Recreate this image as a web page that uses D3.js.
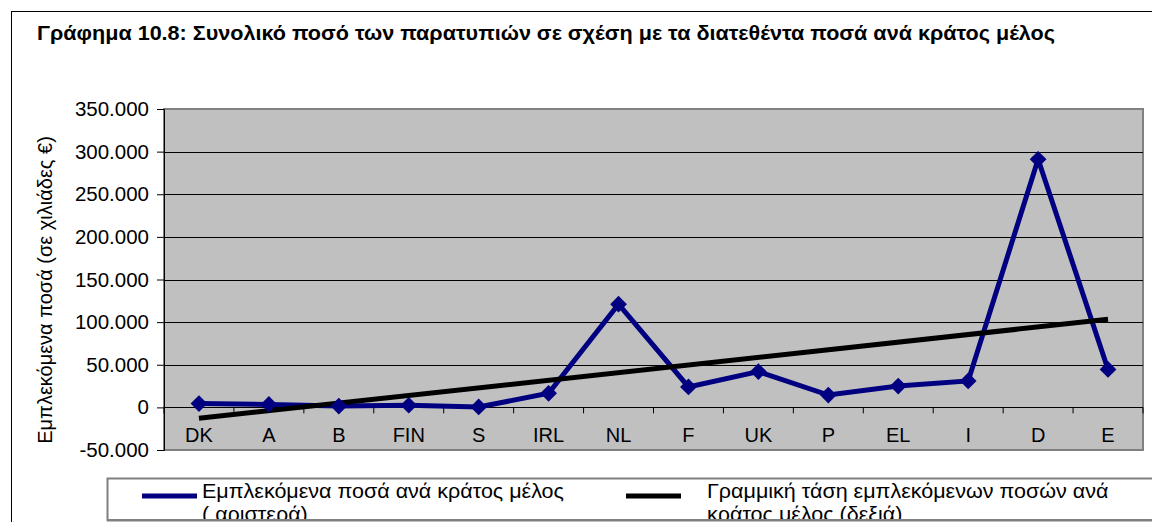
<html>

<head>
    <meta charset="utf-8">
    <script src="https://cdn.jsdelivr.net/npm/d3@7"></script>
    <style>
        body {
            margin: 0;
            background: #fff;
        }

        text {
            font-family: "Liberation Sans", Arial, sans-serif;
            fill: #000;
        }
    </style>
</head>

<body>
    <svg width="1152" height="522" id="chart"></svg>

    <script>
        // data (thousands of euro)
        const countries = ["DK", "A", "B", "FIN", "S", "IRL", "NL", "F", "UK", "P", "EL", "I", "D", "E"];
        const amounts = [4.5, 3.5, 1.5, 2.5, 0.5, 16.5, 121, 24, 42, 14.5, 25, 31, 291, 44.5];
        // linear trend, value at first and last country
        const trendCountries = ["DK", "E"];
        const trendValues = [-12.8, 103.3];
        const yTicks = [-50, 0, 50, 100, 150, 200, 250, 300, 350];

        const titleText = "Γράφημα 10.8: Συνολικό ποσό των παρατυπιών σε σχέση με τα διατεθέντα ποσά ανά κράτος μέλος";
        const yLabel = "Εμπλεκόμενα ποσά (σε χιλιάδες €)";

        const svg = d3.select("#chart");
        const margin = { top: 109, right: 9, bottom: 72, left: 164 };
        const width = +svg.attr("width");
        const height = +svg.attr("height");
        const chartWidth = width - margin.left - margin.right;
        const chartHeight = height - margin.top - margin.bottom;

        // outer frame
        svg.append("rect").attr("x", 11.5).attr("y", 11.5).attr("width", 1200).attr("height", 600)
            .attr("fill", "#fff").attr("stroke", "#000").attr("stroke-width", 1);

        svg.append("text").attr("x", 37).attr("y", 40)
            .style("font-weight", "bold").style("font-size", "19.5px")
            .attr("textLength", 1018).attr("lengthAdjust", "spacingAndGlyphs")
            .text(titleText);

        const xScale = d3.scaleBand().domain(countries).range([0, chartWidth]);
        const yScale = d3.scaleLinear().domain([-50, 350]).range([chartHeight, 0]);

        const chart = svg.append("g").attr("transform", `translate(${margin.left}, ${margin.top})`);

        // plot area
        chart.append("rect").attr("x", 0).attr("y", 0).attr("width", chartWidth).attr("height", chartHeight)
            .attr("fill", "#c0c0c0").attr("stroke", "#808080").attr("stroke-width", 2);

        // gridlines
        chart.append("g").selectAll("line")
            .data(yTicks.filter(d => d > -50 && d < 350))
            .join("line")
            .attr("x1", 0).attr("x2", chartWidth)
            .attr("y1", d => Math.round(yScale(d)) + 0.5).attr("y2", d => Math.round(yScale(d)) + 0.5)
            .attr("stroke", "#000").attr("stroke-width", 1);

        // y axis
        const fmt = d => d === 0 ? "0" : d + ".000";
        const yAxis = d3.axisLeft(yScale).tickValues(yTicks).tickSize(7).tickPadding(8).tickFormat(fmt);
        const yAxisG = chart.append("g").call(yAxis);
        yAxisG.select(".domain").attr("stroke", "#000");
        yAxisG.selectAll("text").style("font-size", "20.5px").style("font-family", "Liberation Sans, Arial, sans-serif");

        // category axis at zero
        const zeroY = yScale(0);
        const xAxis = d3.axisBottom(xScale).tickSize(0).tickPadding(20);
        const xAxisG = chart.append("g").attr("transform", `translate(0, ${zeroY})`).call(xAxis);
        xAxisG.select(".domain").remove();
        xAxisG.selectAll("text").style("font-size", "20px").style("font-family", "Liberation Sans, Arial, sans-serif");

        // tick marks between categories
        chart.append("g").selectAll("line")
            .data(d3.range(countries.length + 1))
            .join("line")
            .attr("x1", i => i * xScale.bandwidth()).attr("x2", i => i * xScale.bandwidth())
            .attr("y1", zeroY).attr("y2", zeroY + 6)
            .attr("stroke", "#000").attr("stroke-width", 1);

        const cx = c => xScale(c) + xScale.bandwidth() / 2;

        // series line
        const line = d3.line().x((d, i) => cx(countries[i])).y(d => yScale(d));
        chart.append("path").datum(amounts).attr("d", line)
            .attr("fill", "none").attr("stroke", "#000080").attr("stroke-width", 5)
            .attr("stroke-linejoin", "miter");

        // trend line
        const trendLine = d3.line().x((d, i) => cx(trendCountries[i])).y(d => yScale(d));
        chart.append("path").datum(trendValues).attr("d", trendLine)
            .attr("fill", "none").attr("stroke", "#000").attr("stroke-width", 5);

        // diamond markers
        const diamond = d3.symbol().type(d3.symbolSquare).size(140);
        chart.append("g").selectAll("path")
            .data(amounts)
            .join("path")
            .attr("d", diamond)
            .attr("transform", (d, i) => `translate(${cx(countries[i])}, ${yScale(d)}) rotate(45)`)
            .attr("fill", "#000080");

        // y label
        svg.append("text")
            .attr("transform", `translate(52, 290) rotate(-90)`)
            .attr("text-anchor", "middle")
            .style("font-size", "20px")
            .text(yLabel);

        // legend
        svg.append("clipPath").attr("id", "legclip").append("rect")
            .attr("x", -200).attr("y", -100).attr("width", 2000).attr("height", 141);
        const legend = svg.append("g").attr("transform", "translate(107, 478)");
        legend.append("rect").attr("x", 0.5).attr("y", 0.5).attr("width", 1100).attr("height", 41.5)
            .attr("fill", "#fff").attr("stroke", "#808080").attr("stroke-width", 2);

        const legendItems = [
            { color: "#000080", x: 35, tx: 95, lines: ["Εμπλεκόμενα ποσά ανά κράτος μέλος", "( αριστερά)"] },
            { color: "#000", x: 519, tx: 600, lines: ["Γραμμική τάση εμπλεκόμενων ποσών ανά", "κράτος μέλος (δεξιά)"] }
        ];
        const items = legend.selectAll(".legend-item").data(legendItems).join("g")
            .attr("class", "legend-item")
            .attr("clip-path", "url(#legclip)");
        items.append("line")
            .attr("x1", d => d.x).attr("x2", d => d.x + 55)
            .attr("y1", 18).attr("y2", 18)
            .attr("stroke", d => d.color).attr("stroke-width", 5);
        items.append("text")
            .attr("transform", d => `translate(${d.tx}, 20) scale(1.05, 1)`)
            .style("font-size", "20.5px")
            .selectAll("tspan").data(d => d.lines).join("tspan")
            .attr("x", 0)
            .attr("dy", (d, i) => i === 0 ? 0 : 23)
            .text(d => d);

        // bottom cut line
        svg.append("line").attr("x1", 107).attr("x2", 1152).attr("y1", 520.5).attr("y2", 520.5)
            .attr("stroke", "#808080").attr("stroke-width", 2);
    </script>
</body>

</html>
